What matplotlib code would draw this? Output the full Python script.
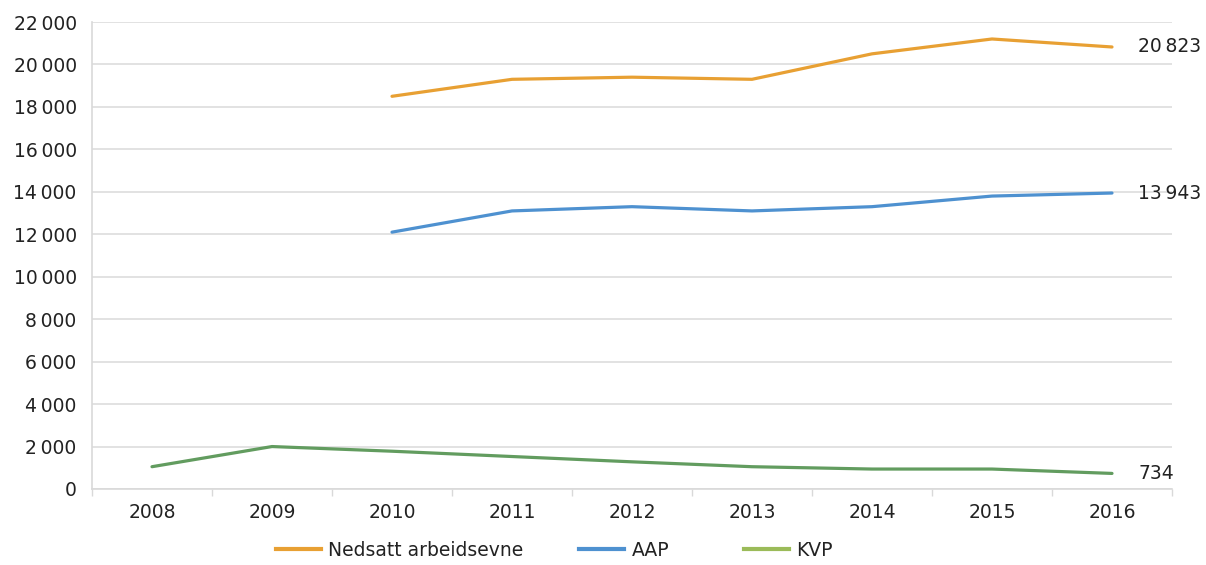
import matplotlib
matplotlib.use("Agg")
import matplotlib.pyplot as plt
from matplotlib.lines import Line2D
from matplotlib.ticker import FuncFormatter, MultipleLocator
import numpy as np

years = ["2008", "2009", "2010", "2011", "2012", "2013", "2014", "2015", "2016"]
nedsatt = [None, None, 18500, 19300, 19400, 19300, 20500, 21200, 20823]
aap = [None, None, 12100, 13100, 13300, 13100, 13300, 13800, 13943]
kvp = [1050, 2000, 1780, 1530, 1280, 1050, 940, 940, 734]
series_names = ["Nedsatt arbeidsevne", "AAP", "KVP"]

plt.rcParams['font.family'] = ['DejaVu Sans']
fig = plt.figure(figsize=(12.06, 5.65), dpi=100)
ax = fig.add_axes([92/1206, 1-489/565, (1172-92)/1206, (489-22)/565])

c_orange = "#E8A033"
c_blue = "#4E91D0"
c_green_line = "#629C5F"
c_green_leg = "#9BBB59"
FS = 13.5

x = np.arange(len(years))
def arr(v):
    return np.array([np.nan if a is None else a for a in v], dtype=float)

ax.plot(x, arr(nedsatt), color=c_orange, lw=2.3, solid_capstyle='round')
ax.plot(x, arr(aap), color=c_blue, lw=2.3, solid_capstyle='round')
ax.plot(x, arr(kvp), color=c_green_line, lw=2.3, solid_capstyle='round')

def fmt(v):
    s = f"{int(round(v)):,}".replace(",", "\u202f")
    return s

for vals in (nedsatt, aap, kvp):
    ax.annotate(fmt(vals[-1]), xy=(x[-1], vals[-1]), xytext=(19, 0),
                textcoords='offset points', va='center', ha='left',
                fontsize=FS, color='#222222')

ax.set_xlim(-0.5, 8.5)
ax.set_ylim(0, 22000)
ax.yaxis.set_major_locator(MultipleLocator(2000))
ax.yaxis.set_major_formatter(FuncFormatter(lambda v, p: fmt(v)))
ax.set_xticks(x)
ax.set_xticklabels(years)
ax.set_xticks(np.arange(-0.5, 9, 1), minor=True)
ax.tick_params(axis='x', which='major', length=0, pad=10, labelsize=FS, labelcolor='#222222')
ax.tick_params(axis='x', which='minor', length=5, color='#D9D9D9', width=1)
ax.tick_params(axis='y', length=0, pad=11, labelsize=FS, labelcolor='#222222')
ax.grid(axis='y', color='#DDDDDD', lw=1.2)
ax.set_axisbelow(True)
for s in ('top', 'right'):
    ax.spines[s].set_visible(False)
for s in ('left', 'bottom'):
    ax.spines[s].set_color('#D9D9D9')
    ax.spines[s].set_linewidth(1.2)

colors_leg = [c_orange, c_blue, c_green_leg]
lefts = [276, 579, 744]
for name, col, lx in zip(series_names, colors_leg, lefts):
    h = Line2D([], [], color=col, lw=3)
    leg = fig.legend([h], [name], loc='center left',
                     bbox_to_anchor=(lx/1206, 1-550/565), frameon=False,
                     fontsize=FS, handlelength=2.4, handletextpad=0.4,
                     borderaxespad=0, borderpad=0)
    for t in leg.get_texts():
        t.set_color('#222222')

fig.savefig("out.png", dpi=100, facecolor='white')
